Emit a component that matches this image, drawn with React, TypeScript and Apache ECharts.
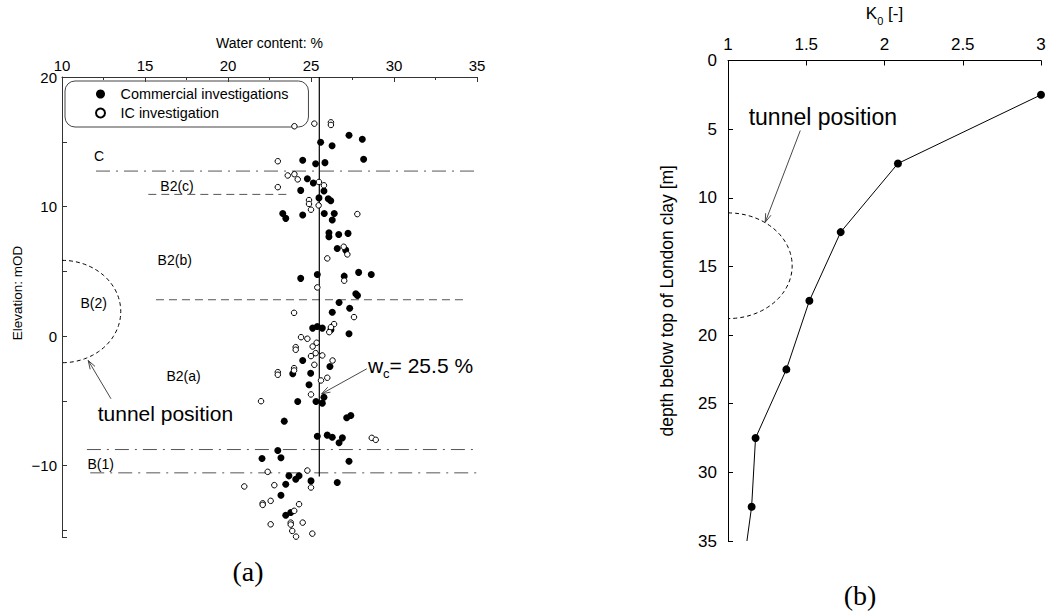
import React, { useEffect, useRef } from 'react';
import * as echarts from 'echarts';

const FONT = '"Liberation Sans", Arial, Helvetica, sans-serif';

// (a) water content [%], elevation [mOD]
const commercial: number[][] = [
  [27.29, 15.5], [28.09, 15.19], [25.58, 14.96], [26.27, 14.7], [28.17, 13.65], [24.5, 13.57], [25.28, 13.31],
  [25.84, 13.39], [24.78, 12.15], [25.14, 11.82], [24.38, 11.25], [25.78, 11.2], [26.04, 10.6], [25.48, 10.67],
  [26.19, 10.45], [23.3, 9.47], [23.48, 9.09], [24.5, 9.35], [25.8, 9.47], [26.4, 9.47], [26.28, 8.96],
  [26.08, 7.98], [26.08, 7.67], [26.67, 7.85], [27.23, 7.93], [26.58, 6.77], [27.09, 6.64], [24.38, 4.46],
  [25.38, 4.76], [27.0, 4.63], [27.87, 4.92], [28.63, 4.76], [27.7, 3.27], [27.8, 3.14], [26.69, 2.6],
  [27.33, 2.16], [26.28, 1.85], [25.1, 0.62], [25.38, 0.75], [25.68, 0.62], [26.2, 0.5], [27.29, 0.18],
  [24.5, -1.88], [26.14, -2.34], [23.9, -2.9], [24.98, -2.86], [24.88, -3.75], [24.2, -5.04], [25.3, -5.04],
  [25.68, -5.17], [25.78, -4.71], [23.39, -6.56], [27.15, -6.3], [27.4, -6.12], [25.38, -7.72], [25.98, -7.64],
  [26.28, -7.8], [26.89, -7.85], [26.69, -8.23], [23.0, -8.83], [22.05, -9.44], [23.19, -9.39], [27.29, -9.65],
  [23.67, -10.78], [24.08, -11.04], [24.28, -10.78], [25.0, -11.17], [26.58, -11.3], [23.48, -11.43],
  [23.19, -12.28], [23.48, -13.82], [23.78, -13.61],
];
const icInvestigation: number[][] = [
  [24.0, 16.2], [25.2, 16.4], [26.2, 16.5], [26.2, 16.3], [23.0, 13.5], [23.6, 12.4], [24.0, 12.5], [24.2, 12.1],
  [25.48, 11.9], [25.78, 11.64], [23.0, 11.5], [24.88, 10.5], [24.88, 10.2], [25.0, 9.76], [25.46, 10.09],
  [27.79, 9.42], [26.97, 6.9], [27.19, 6.31], [25.98, 6.0], [27.0, 4.28], [25.38, 3.76], [27.59, 1.47],
  [23.98, 1.8], [26.39, 0.93], [26.2, 0.69], [26.1, 0.31], [24.4, -0.08], [24.78, -0.2], [25.34, -0.51],
  [25.1, -0.8], [24.08, -0.85], [24.08, -1.05], [25.28, -1.31], [25.0, -1.54], [25.68, -1.49], [26.3, -1.88],
  [25.2, -2.21], [23.98, -2.47], [23.98, -2.65], [23.0, -2.78], [23.0, -2.98], [25.98, -3.21], [25.6, -3.42],
  [25.0, -4.5], [21.99, -5.02], [28.66, -7.85], [28.9, -8.0], [22.39, -10.47], [24.78, -10.37], [25.0, -11.68],
  [20.98, -11.6], [22.79, -11.5], [22.09, -12.9], [22.09, -13.02], [22.57, -12.71], [24.28, -12.97],
  [23.99, -13.48], [22.57, -14.52], [23.78, -14.39], [23.78, -14.54], [24.5, -14.39], [23.87, -15.03],
  [25.08, -15.24], [24.1, -15.47],
];
const meanWaterContent = 25.5;
const meanLineElev = [20, -10.83];

// layer boundaries
const boundaryElev = [12.74, 10.94, 2.81, -8.75, -10.55];
const boundaryFrom = [12.05, 15.2, 15.66, 11.5, 11.7];
const boundaryTo = [35, 23.6, 34.2, 34.8, 35];
const boundaryType = ['unit', 'subunit', 'subunit', 'unit', 'unit'];

// layer labels
const layerNames = ['C', 'B2(c)', 'B2(b)', 'B(2)', 'B2(a)', 'B(1)'];
const layerX = [12.23, 16.93, 16.79, 11.91, 17.32, 12.33];
const layerY = [13.88, 11.6, 5.9, 2.56, -3.11, -9.87];

// tunnel outlines: [centre x, centre y, half-width, half-height]
const tunnelA = [10, 1.9, 3.54, 3.95];
const tunnelB = [1.0, 14.95, 0.41, 3.85];

// annotation arrows [x1, y1, x2, y2]
const arrowsA = [
  [12.95, -4.83, 11.58, -1.88],
  [28.36, -2.52, 25.64, -4.45],
];
const arrowsB = [[1.462, 5.1, 1.238, 11.78]];
const tunnelTextA = [16.23, -5.99];
const wcTextA = [28.43, -2.26];
const tunnelTextB = [1.606, 4.13];

// (b) K0 profile
const k0Values = [3.0, 2.086, 1.72, 1.52, 1.373, 1.176, 1.151, 1.121];
const depthValues = [2.5, 7.5, 12.5, 17.5, 22.5, 27.5, 32.5, 35];

function ellipseItem(params: any, api: any) {
  const c = api.coord([api.value(0), api.value(1)]);
  const e = api.coord([api.value(0) + api.value(2), api.value(1) + api.value(3)]);
  const rx = Math.abs(e[0] - c[0]);
  const ry = Math.abs(e[1] - c[1]);
  const pts: number[][] = [];
  for (let i = 0; i <= 80; i++) {
    const t = -Math.PI / 2 + (Math.PI * i) / 80;
    pts.push([c[0] + rx * Math.cos(t), c[1] + ry * Math.sin(t)]);
  }
  return {
    type: 'polyline',
    shape: { points: pts },
    style: { stroke: '#000', fill: null, lineWidth: 1, lineDash: [4, 3] },
  };
}

function arrowItem(params: any, api: any) {
  const a = api.coord([api.value(0), api.value(1)]);
  const b = api.coord([api.value(2), api.value(3)]);
  const ang = Math.atan2(b[1] - a[1], b[0] - a[0]);
  const L = 9;
  const w = 0.32;
  const h1 = [b[0] - L * Math.cos(ang - w), b[1] - L * Math.sin(ang - w)];
  const h2 = [b[0] - L * Math.cos(ang + w), b[1] - L * Math.sin(ang + w)];
  const st = { stroke: '#333', fill: null, lineWidth: 0.9 };
  return {
    type: 'group',
    children: [
      { type: 'polyline', shape: { points: [a, b] }, style: st },
      { type: 'polyline', shape: { points: [h1, b, h2] }, style: st },
    ],
  };
}

function textSeries(xi: number, data: number[][], text: string, fontSize: number, align = 'center', rich?: any) {
  return {
    type: 'custom',
    xAxisIndex: xi,
    yAxisIndex: xi,
    silent: true,
    z: 6,
    data,
    encode: { x: 0, y: 1 },
    renderItem: (params: any, api: any) => {
      const p = api.coord([api.value(0), api.value(1)]);
      const style: any = {
        text: text,
        fill: '#000',
        font: `${fontSize}px ${FONT}`,
        align,
        verticalAlign: 'middle',
      };
      if (rich) style.rich = rich;
      return { type: 'text', x: p[0], y: p[1], style };
    },
  };
}

function buildOption(): any {
  const axisLineGrey = { show: true, onZero: false, lineStyle: { color: '#333', width: 1 } };
  const axisLineBlack = { show: true, onZero: false, lineStyle: { color: '#000', width: 1 } };
  const boundarySeries = boundaryElev.map((e, i) => ({
    type: 'line',
    xAxisIndex: 0,
    yAxisIndex: 0,
    silent: true,
    symbol: 'none',
    data: [[boundaryFrom[i], e], [boundaryTo[i], e]],
    lineStyle: {
      color: '#555',
      width: 1,
      type: boundaryType[i] === 'unit' ? [14, 6, 2, 6] : [8, 5],
    },
    z: 1,
  }));

  return {
    animation: false,
    backgroundColor: '#fff',
    grid: [
      { left: 62, top: 77, width: 415, height: 460 },
      { left: 728, top: 60, width: 313, height: 481 },
    ],
    legend: {
      data: ['Commercial investigations', 'IC investigation'],
      orient: 'vertical',
      left: 65,
      top: 81,
      icon: 'circle',
      itemWidth: 30,
      itemHeight: 9,
      itemGap: 5,
      padding: [6, 20, 7, 30],
      borderColor: '#444',
      borderWidth: 1,
      borderRadius: 10,
      selectedMode: false,
      textStyle: { fontSize: 14.4, color: '#000', fontFamily: FONT },
    },
    xAxis: [
      {
        gridIndex: 0,
        type: 'value',
        position: 'top',
        min: 10,
        max: 35,
        interval: 5,
        name: 'Water content: %',
        nameLocation: 'middle',
        nameGap: 27,
        nameTextStyle: { fontSize: 14, color: '#000', fontFamily: FONT },
        axisLine: axisLineGrey,
        axisTick: { show: true, inside: true, length: 5, lineStyle: { color: '#333' } },
        minorTick: { show: true, splitNumber: 2, length: 3, lineStyle: { color: '#333' } },
        axisLabel: { fontSize: 15, color: '#000', fontFamily: FONT, margin: 4 },
        splitLine: { show: false },
        minorSplitLine: { show: false },
      },
      {
        gridIndex: 1,
        type: 'value',
        position: 'top',
        min: 1,
        max: 3,
        interval: 0.5,
        name: '{k|K}{s|0}{k| [-]}',
        nameLocation: 'middle',
        nameGap: 34,
        nameTextStyle: {
          color: '#000',
          rich: {
            k: { fontSize: 17, fontFamily: FONT, color: '#000', lineHeight: 26 },
            s: { fontSize: 11, fontFamily: FONT, color: '#000', lineHeight: 11, verticalAlign: 'bottom' },
          },
        },
        axisLine: axisLineBlack,
        axisTick: { show: true, inside: true, length: 5, lineStyle: { color: '#000' } },
        axisLabel: { fontSize: 17, color: '#000', fontFamily: FONT, margin: 8 },
        splitLine: { show: false },
      },
    ],
    yAxis: [
      {
        gridIndex: 0,
        type: 'value',
        min: -15.5,
        max: 20,
        minInterval: 5,
        maxInterval: 5,
        axisLine: axisLineGrey,
        axisTick: { show: true, inside: true, length: 5, lineStyle: { color: '#333' } },
        axisLabel: {
          fontSize: 15,
          color: '#000',
          fontFamily: FONT,
          margin: 5,
          formatter: (v: number) => (Math.abs(v % 10) < 1e-9 ? (v < 0 ? '\u2212' + Math.abs(v) : String(v)) : ''),
        },
        splitLine: { show: false },
      },
      {
        gridIndex: 1,
        type: 'value',
        inverse: true,
        min: 0,
        max: 35,
        interval: 5,
        name: 'depth below top of London clay [m]',
        nameLocation: 'middle',
        nameGap: 52,
        nameTextStyle: { fontSize: 17.5, color: '#000', fontFamily: FONT },
        axisLine: axisLineBlack,
        axisTick: { show: true, inside: true, length: 5, lineStyle: { color: '#000' } },
        axisLabel: { fontSize: 17, color: '#000', fontFamily: FONT, margin: 11 },
        splitLine: { show: false },
      },
    ],
    graphic: [
      {
        type: 'text',
        x: 17,
        y: 293,
        rotation: Math.PI / 2,
        style: { text: 'Elevation: mOD', fill: '#000', font: `13.5px ${FONT}`, align: 'center', verticalAlign: 'middle' },
      },
      {
        type: 'text',
        x: 248,
        y: 571,
        style: { text: '(a)', fill: '#000', font: '28px "Liberation Serif", "DejaVu Serif", serif', align: 'center', verticalAlign: 'middle' },
      },
      {
        type: 'text',
        x: 860,
        y: 595,
        style: { text: '(b)', fill: '#000', font: '28px "Liberation Serif", "DejaVu Serif", serif', align: 'center', verticalAlign: 'middle' },
      },
    ],
    series: [
      ...boundarySeries,
      {
        type: 'line',
        xAxisIndex: 0,
        yAxisIndex: 0,
        silent: true,
        symbol: 'none',
        data: meanLineElev.map((e) => [meanWaterContent, e]),
        lineStyle: { color: '#000', width: 1.2, type: 'solid' },
        z: 2,
      },
      {
        name: 'Commercial investigations',
        type: 'scatter',
        xAxisIndex: 0,
        yAxisIndex: 0,
        symbol: 'circle',
        symbolSize: 7,
        data: commercial,
        itemStyle: { color: '#000', opacity: 1 },
        z: 4,
      },
      {
        name: 'IC investigation',
        type: 'scatter',
        xAxisIndex: 0,
        yAxisIndex: 0,
        symbol: 'circle',
        symbolSize: 5.5,
        data: icInvestigation,
        itemStyle: { color: '#fff', borderColor: '#000', borderWidth: 1, opacity: 1 },
        z: 5,
      },
      {
        type: 'custom',
        xAxisIndex: 0,
        yAxisIndex: 0,
        silent: true,
        data: [tunnelA],
        encode: { x: 0, y: 1 },
        renderItem: ellipseItem,
        z: 3,
      },
      {
        type: 'custom',
        xAxisIndex: 0,
        yAxisIndex: 0,
        silent: true,
        data: arrowsA,
        encode: { x: [0, 2], y: [1, 3] },
        renderItem: arrowItem,
        z: 6,
      },
      {
        type: 'custom',
        xAxisIndex: 0,
        yAxisIndex: 0,
        silent: true,
        z: 6,
        data: layerNames.map((n, i) => [layerX[i], layerY[i], i]),
        encode: { x: 0, y: 1 },
        renderItem: (params: any, api: any) => {
          const p = api.coord([api.value(0), api.value(1)]);
          return {
            type: 'text',
            x: p[0],
            y: p[1],
            style: { text: layerNames[api.value(2)], fill: '#000', font: `14px ${FONT}`, align: 'center', verticalAlign: 'middle' },
          };
        },
      },
      textSeries(0, [tunnelTextA], 'tunnel position', 21),
      textSeries(0, [wcTextA], '{w|w}{s|c}{w|= 25.5 %}', 21, 'left', {
        w: { fontSize: 21, fontFamily: FONT, fill: '#000', lineHeight: 30 },
        s: { fontSize: 13, fontFamily: FONT, fill: '#000', lineHeight: 13, verticalAlign: 'bottom' },
      }),
      {
        type: 'line',
        xAxisIndex: 1,
        yAxisIndex: 1,
        silent: true,
        symbol: 'circle',
        symbolSize: 8,
        data: k0Values.map((k, i) =>
          i === k0Values.length - 1 ? { value: [k, depthValues[i]], symbol: 'none' } : [k, depthValues[i]]
        ),
        itemStyle: { color: '#000' },
        lineStyle: { color: '#000', width: 1 },
        z: 4,
      },
      {
        type: 'custom',
        xAxisIndex: 1,
        yAxisIndex: 1,
        silent: true,
        data: [tunnelB],
        encode: { x: 0, y: 1 },
        renderItem: ellipseItem,
        z: 3,
      },
      {
        type: 'custom',
        xAxisIndex: 1,
        yAxisIndex: 1,
        silent: true,
        data: arrowsB,
        encode: { x: [0, 2], y: [1, 3] },
        renderItem: arrowItem,
        z: 6,
      },
      textSeries(1, [tunnelTextB], 'tunnel position', 23),
    ],
  };
}

export default function App() {
  const ref = useRef<HTMLDivElement>(null);
  useEffect(() => {
    const chart = echarts.init(ref.current as HTMLDivElement, null, { renderer: 'svg' });
    chart.setOption(buildOption());
    return () => chart.dispose();
  }, []);
  return <div ref={ref} style={{ position: 'fixed', left: 0, top: 0, width: 1050, height: 612, background: '#fff' }} />;
}
